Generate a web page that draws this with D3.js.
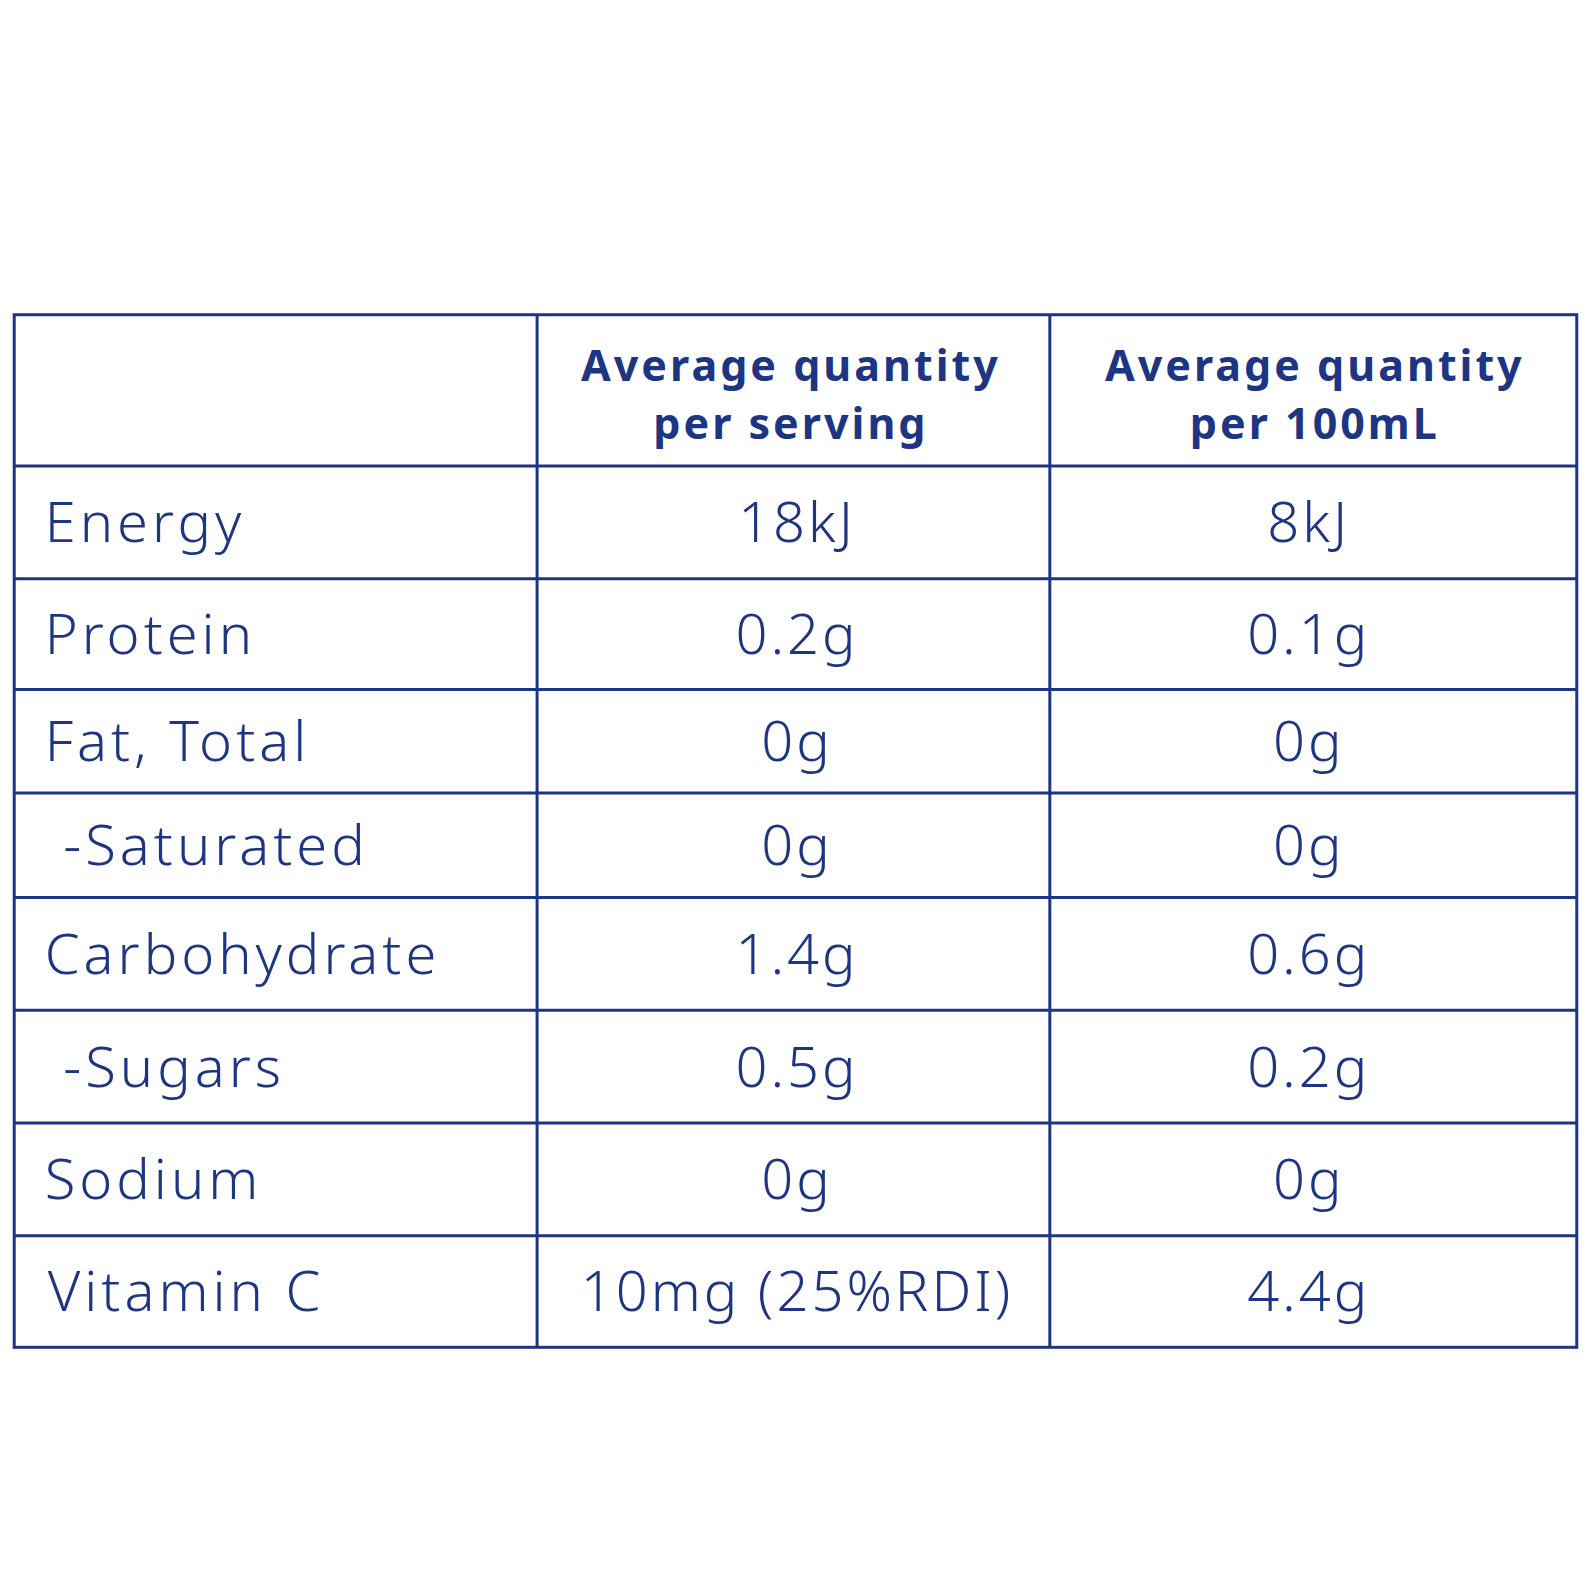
<!DOCTYPE html>
<html><head><meta charset="utf-8">
<script src="https://cdn.jsdelivr.net/npm/d3@7"></script>
<style>body{margin:0;background:#fff}</style></head>
<body><svg id="c" width="1592" height="1592"></svg>
<script>
const nutrients = ["Energy","Protein","Fat, Total"," -Saturated","Carbohydrate"," -Sugars","Sodium","Vitamin C"];
const perServing = ["18kJ","0.2g","0g","0g","1.4g","0.5g","0g","10mg (25%RDI)"];
const per100mL = ["8kJ","0.1g","0g","0g","0.6g","0.2g","0g","4.4g"];
const headers = [["Average quantity","per serving"],["Average quantity","per 100mL"]];
// layout (scaled to the full 1592 canvas)
const k = 1592/1568;
const rowEdges = [310,459,570,679,781,884,995,1106,1217,1327].map(v=>v*k);
const colEdges = [14,529,1034,1553].map(v=>v*k);
const color = "#1d3582";
const svg = d3.select("#c");
const font = "'Noto Sans', sans-serif";
const lw = 3;
svg.append("rect").attr("x",colEdges[0]).attr("y",rowEdges[0])
  .attr("width",colEdges[3]-colEdges[0]).attr("height",rowEdges[9]-rowEdges[0])
  .attr("fill","none").attr("stroke",color).attr("stroke-width",lw);
svg.selectAll("line.h").data(rowEdges.slice(1,-1)).join("line")
  .attr("x1",colEdges[0]).attr("x2",colEdges[3]).attr("y1",d=>d).attr("y2",d=>d)
  .attr("stroke",color).attr("stroke-width",lw);
svg.selectAll("line.v").data(colEdges.slice(1,-1)).join("line")
  .attr("y1",rowEdges[0]).attr("y2",rowEdges[9]).attr("x1",d=>d).attr("x2",d=>d)
  .attr("stroke",color).attr("stroke-width",lw);
const hx=[779,1295];
headers.forEach((h,i)=>{
  h.forEach((t,j)=>svg.append("text").attr("x",hx[i]*k).attr("y",(375+j*57)*k)
    .attr("text-anchor","middle").attr("font-family",font).attr("font-weight","bold")
    .attr("font-size",43).attr("letter-spacing",3).attr("fill",color).text(t));
});
const rows = nutrients.map((n,i)=>({n,s:perServing[i],p:per100mL[i],i}));
rows.forEach(r=>{
  const cy=(rowEdges[r.i+1]+rowEdges[r.i+2])/2+20;
  svg.append("text").attr("x",(r.i===7?47:44)*k).attr("y",cy).attr("xml:space","preserve")
    .attr("font-family",font).attr("font-size",56).attr("font-weight",300).attr("fill",color)
    .attr("letter-spacing",4).text(r.n);
  [[r.s,785],[r.p,1289]].forEach(([t,x])=>svg.append("text").attr("x",x*k).attr("y",cy)
    .attr("text-anchor","middle").attr("font-family",font).attr("font-size",56).attr("font-weight",300)
    .attr("letter-spacing",3).attr("fill",color).text(t));
});
</script></body></html>
